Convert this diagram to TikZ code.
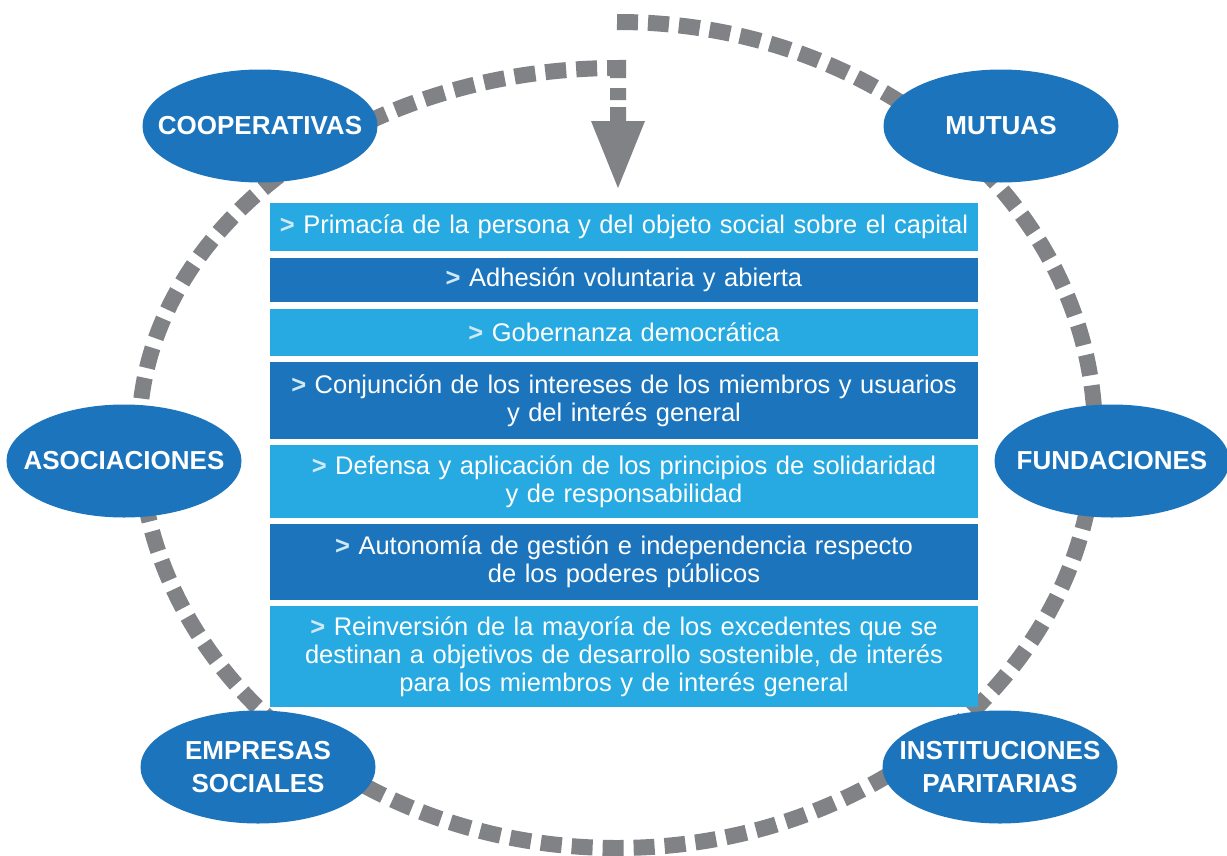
\documentclass[tikz,border=0pt]{standalone}
\usepackage{fontspec}
\setmainfont{Liberation Sans}
\usetikzlibrary{shapes.geometric}
\definecolor{lblue}{RGB}{39,170,225}
\definecolor{dblue}{RGB}{28,117,188}
\definecolor{ringgray}{RGB}{128,130,133}
\definecolor{mk}{RGB}{205,232,247}
\newcommand{\mkr}{\textcolor{mk}{\textbf{>}}\ }
\begin{document}
\begin{tikzpicture}[x=1bp,y=-1bp,
  ring/.style={draw=ringgray, line width=16bp, dash pattern=on 21bp off 10bp},
  pbox/.style={anchor=north, minimum width=708bp, inner sep=0pt, text width=700bp, align=center,
    text=white, font=\fontsize{25.5bp}{28bp}\selectfont},
  lightbox/.style={pbox, fill=lblue},
  darkbox/.style={pbox, fill=dblue},
  ellip/.style={ellipse, fill=dblue, minimum width=235bp, minimum height=113bp, inner sep=0pt},
  elabel/.style={text=white, align=center, inner sep=0pt, font=\bfseries\fontsize{26bp}{33bp}\selectfont}
]
\useasboundingbox (0,0) rectangle (1227,856);

% dashed spiral ring
\draw[ring] (617,22) arc[start angle=-90, end angle=180, x radius=478, y radius=413]
  arc[start angle=180, end angle=270, x radius=479, y radius=367] -- (618,100);
% arrow head
\fill[ringgray] (610,107) -- (626,107) -- (626,121) -- (645,121) -- (618,188) -- (591,121) -- (610,121) -- cycle;

% ellipses
\node[ellip, label={[elabel]center:COOPERATIVAS}] (coop) at (260,126) {};
\node[ellip, label={[elabel]center:MUTUAS}] (mut) at (1001,126) {};
\node[ellip, label={[elabel]center:ASOCIACIONES}] (asoc) at (124,461) {};
\node[ellip, label={[elabel]center:FUNDACIONES}] (fund) at (1112,461) {};
\node[ellip, label={[elabel]center:{EMPRESAS\\SOCIALES}}] (emp) at (258,767) {};
\node[ellip, label={[elabel]center:{INSTITUCIONES\\PARITARIAS}}] (inst) at (1000,767) {};

% boxes
\node[lightbox, minimum height=48bp] (b1) at (624,203) {\mkr Primacía de la persona y del objeto social sobre el capital};
\node[darkbox, minimum height=44bp] (b2) at (624,258) {\mkr Adhesión voluntaria y abierta};
\node[lightbox, minimum height=47bp] (b3) at (624,309) {\mkr Gobernanza democrática};
\node[darkbox, minimum height=77bp] (b4) at (624,362) {\mkr Conjunción de los intereses de los miembros y usuarios\\y del interés general};
\node[lightbox, minimum height=73bp] (b5) at (624,445) {\mkr Defensa y aplicación de los principios de solidaridad\\y de responsabilidad};
\node[darkbox, minimum height=76bp] (b6) at (624,524) {\mkr Autonomía de gestión e independencia respecto\\de los poderes públicos};
\node[lightbox, minimum height=101bp] (b7) at (624,606) {\mkr Reinversión de la mayoría de los excedentes que se\\destinan a objetivos de desarrollo sostenible, de interés\\para los miembros y de interés general};
\end{tikzpicture}
\end{document}
